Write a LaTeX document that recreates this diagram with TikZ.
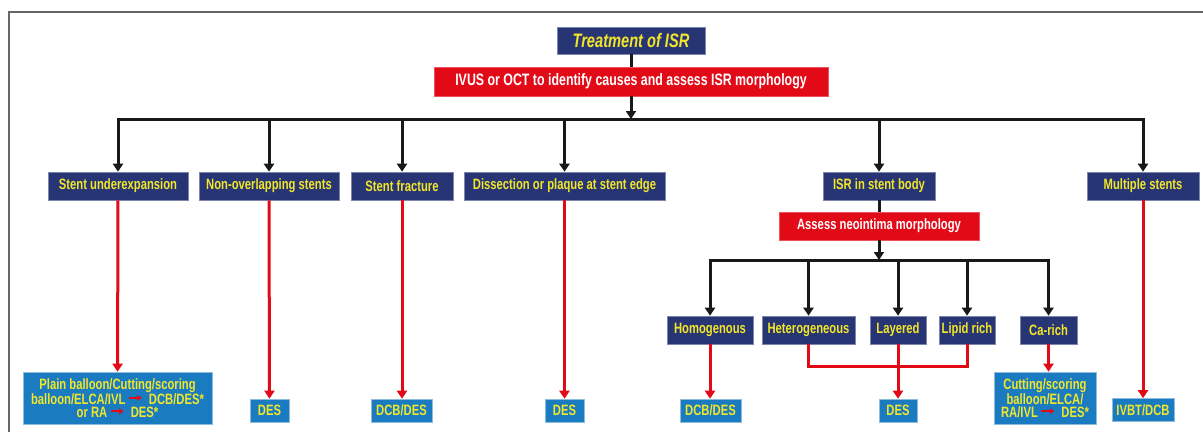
\documentclass[tikz,border=0pt]{standalone}
\usepackage{fontspec}
\setmainfont{Liberation Sans}[FakeStretch=0.75]
\usetikzlibrary{arrows.meta}
\definecolor{isrnavy}{HTML}{283574}
\definecolor{isryellow}{HTML}{F2E62A}
\definecolor{isrred}{HTML}{E30A18}
\definecolor{isrblue}{HTML}{1A7BC0}
\definecolor{framegray}{HTML}{666666}
% small red arrow used inside the result boxes
\newcommand\inarrow{\,\tikz[baseline=-0.8ex]\draw[isrred,line width=1.7pt,-{Triangle[width=5.5pt,length=4.5pt]}] (0pt,0pt)--(13pt,0pt);\ \ }
\tikzset{
  base/.style={inner sep=0pt, align=center, font=\bfseries\fontsize{15}{13.5}\selectfont},
  navybox/.style={base, fill=isrnavy, draw=isrnavy!60!white, line width=0.6pt, text=isryellow, minimum height=28pt},
  redbox/.style={base, fill=isrred, draw=isrred!70!white, line width=0.6pt, text=white, minimum height=28pt},
  resbox/.style={base, fill=isrblue, draw=isrblue!50!white, line width=0.6pt, text=isryellow, minimum height=23pt},
  tip/.tip={Triangle[width=10pt,length=8pt]},
  blk/.style={black!90, line width=3pt},
  rdl/.style={isrred, line width=3pt},
}
\begin{document}
\begin{tikzpicture}[x=1pt,y=-1pt]
\useasboundingbox (0,0) rectangle (1203,432);
\fill[white] (0,0) rectangle (1203,432);
% outer frame
\draw[framegray, line width=1.5pt] (1203,12) -- (9,12) -- (9,432);

% top of the chart
\node[navybox, minimum width=148pt, minimum height=27pt,
      font=\bfseries\itshape\fontsize{19.5}{20}\selectfont] (title) at (631,40.5) {Treatment of ISR};
\node[redbox, minimum width=394pt, minimum height=29pt,
      font=\bfseries\fontsize{16.5}{16}\selectfont] (ivus) at (631,81.5) {IVUS or OCT to identify causes and assess ISR morphology};
\coordinate (bus) at (0,119);

% causes
\node[navybox, minimum width=140pt] (su) at (118,186) {Stent underexpansion};
\node[navybox, minimum width=140pt] (no) at (269,186) {Non-overlapping stents};
\node[navybox, minimum width=102pt] (sf) at (402,186) {Stent fracture};
\node[navybox, minimum width=201pt] (ds) at (564.5,186) {Dissection or plaque at stent edge};
\node[navybox, minimum width=112pt] (sb) at (879,186) {ISR in stent body};
\node[navybox, minimum width=112pt] (ms) at (1143,186) {Multiple stents};

% neointima assessment
\node[redbox, minimum width=200pt] (nm) at (879,226) {Assess neointima morphology};
\coordinate (bus2) at (0,260);
\node[navybox, minimum width=86pt] (ho) at (710,330) {Homogenous};
\node[navybox, minimum width=93pt] (he) at (808.5,330) {Heterogeneous};
\node[navybox, minimum width=56pt] (la) at (898,330) {Layered};
\node[navybox, minimum width=56pt] (lr) at (967,330) {Lipid rich};
\node[navybox, minimum width=57pt] (ca) at (1048.5,330) {Ca-rich};

% treatments
\node[resbox, minimum width=189pt, minimum height=52pt] (t1) at (117.5,398)
  {Plain balloon/Cutting/scoring\\balloon/ELCA/IVL\inarrow DCB/DES*\\or RA\inarrow DES*};
\node[resbox, minimum width=39pt] (t2) at (269.5,410.5) {DES};
\node[resbox, minimum width=61pt] (t3) at (401.5,410.5) {DCB/DES};
\node[resbox, minimum width=39pt] (t4) at (564.5,410.5) {DES};
\node[resbox, minimum width=61pt] (t5) at (710.5,410.5) {DCB/DES};
\node[resbox, minimum width=38pt] (t6) at (898,410.5) {DES};
\node[resbox, minimum width=102pt, minimum height=52pt] (t7) at (1045,398)
  {Cutting/scoring\\balloon/ELCA/\\RA/IVL\inarrow DES*};
\node[resbox, minimum width=62pt] (t8) at (1143,410) {IVBT/DCB};

% black connectors
\draw[blk] (title) -- (ivus);
\draw[blk,-tip] (ivus) -- (ivus.south |- bus);
\draw[blk,tip-tip] (su.north) -- (su.north |- bus) -- (ms.north |- bus) -- (ms.north);
\draw[blk,-tip] (no.north |- bus) -- (no);
\draw[blk,-tip] (sf.north |- bus) -- (sf);
\draw[blk,-tip] (ds.north |- bus) -- (ds);
\draw[blk,-tip] (sb.north |- bus) -- (sb);
\draw[blk] (sb) -- (nm);
\draw[blk,-tip] (nm) -- (nm.south |- bus2);
\draw[blk,tip-tip] (ho.north) -- (ho.north |- bus2) -- (ca.north |- bus2) -- (ca.north);
\draw[blk,-tip] (he.north |- bus2) -- (he);
\draw[blk,-tip] (la.north |- bus2) -- (la);
\draw[blk,-tip] (lr.north |- bus2) -- (lr);

% red connectors
\draw[rdl,-tip] (su) -- (t1);
\draw[rdl,-tip] (no) -- (t2);
\draw[rdl,-tip] (sf.south) -- (sf.south |- t3.north);
\draw[rdl,-tip] (ds) -- (t4);
\draw[rdl,-tip] (ho.south) -- (ho.south |- t5.north);
\draw[rdl] (he.south) |- (lr.south |- 0,366) -- (lr.south);
\draw[rdl,-tip] (la) -- (t6);
\draw[rdl,-tip] (ca.south) -- (ca.south |- t7.north);
\draw[rdl,-tip] (ms) -- (t8);
\end{tikzpicture}
\end{document}
